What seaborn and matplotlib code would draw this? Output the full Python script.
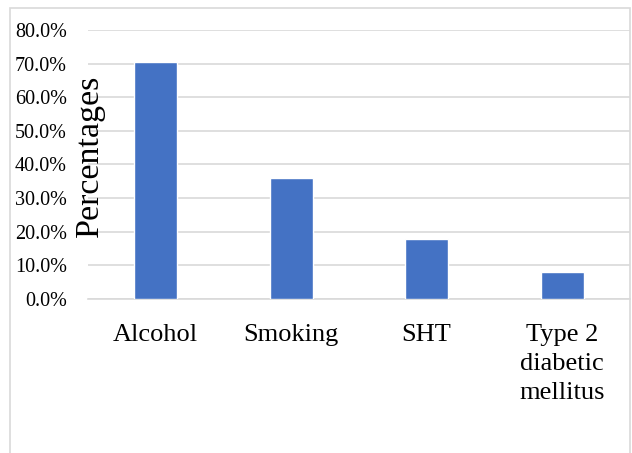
import matplotlib
matplotlib.use("Agg")
import matplotlib.pyplot as plt
from matplotlib.patches import Rectangle
from matplotlib.ticker import PercentFormatter, MultipleLocator
import seaborn as sns
import pandas as pd

categories = ["Alcohol", "Smoking", "SHT", "Type 2\ndiabetic\nmellitus"]
percentages = [70.4, 35.9, 17.9, 8.1]

sns.set_theme(style="white")
plt.rcParams["font.family"] = ["Liberation Serif", "DejaVu Serif"]

df = pd.DataFrame({"Risk factor": categories, "Percentage": percentages})

fig = plt.figure(figsize=(6.32, 4.53), dpi=100)
ax = fig.add_axes([0.139, 0.34, 0.8575, 0.5938])

# light frame around the whole chart
fig.patches.append(Rectangle((10 / 632, -0.05), 620 / 632, 1.05 - 8 / 453,
                             transform=fig.transFigure, fill=False,
                             edgecolor="#d9d9d9", linewidth=1.2, zorder=0))

sns.barplot(data=df, x="Risk factor", y="Percentage", color="#4472C4",
            saturation=1, width=0.317, ax=ax, zorder=3)

ax.set_ylim(0, 80)
ax.yaxis.set_major_locator(MultipleLocator(10))
ax.yaxis.set_major_formatter(PercentFormatter(decimals=1))
ax.grid(axis="y", color="#d9d9d9", linewidth=1.2, zorder=0)
ax.set_axisbelow(True)
for side in ["top", "right", "left"]:
    ax.spines[side].set_visible(False)
ax.spines["bottom"].set_color("#d9d9d9")
ax.spines["bottom"].set_linewidth(1.2)

ax.tick_params(axis="y", labelsize=14.5, pad=15, length=0, colors="black")
ax.tick_params(axis="x", labelsize=19, pad=18, length=0, colors="black")
for lbl in ax.get_xticklabels():
    lbl.set_linespacing(1.4)

ax.set_xlabel("")
ax.set_ylabel("Percentages", fontsize=24.5, color="black")
ax.yaxis.set_label_coords(0.031, 0.533)

fig.savefig("out.png", dpi=100)
